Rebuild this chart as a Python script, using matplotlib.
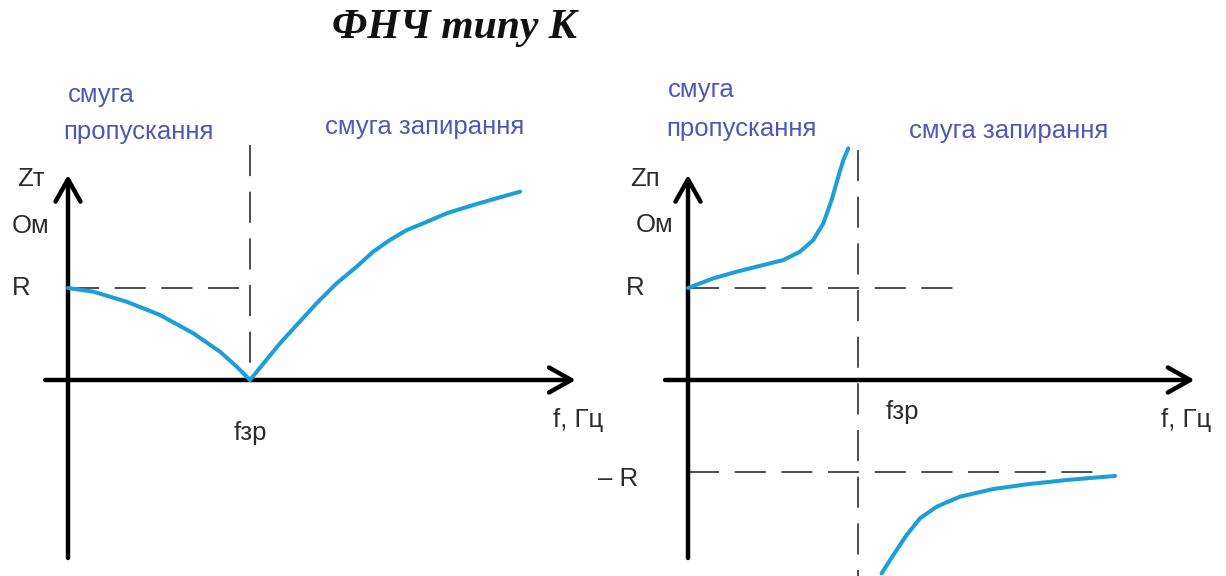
import matplotlib
matplotlib.use("Agg")
import matplotlib.pyplot as plt

# frequency in units of f_cutoff, impedance in units of R
zt_pass_f = [0.0, 0.139, 0.322, 0.505, 0.689, 0.835, 0.927, 1.0]
zt_pass_z = [1.0, 0.960, 0.851, 0.707, 0.507, 0.308, 0.145, 0.0]
zt_stop_f = [1.0, 1.082, 1.165, 1.265, 1.366, 1.476, 1.586, 1.677, 1.769,
             1.861, 1.952, 2.081, 2.227, 2.355, 2.484]
zt_stop_z = [0.0, 0.199, 0.399, 0.616, 0.834, 1.051, 1.232, 1.395, 1.522,
             1.630, 1.703, 1.812, 1.902, 1.975, 2.047]

zp_pass_f = [0.0, 0.149, 0.286, 0.443, 0.561, 0.659, 0.737, 0.796, 0.845,
             0.884, 0.914, 0.943]
zp_pass_z = [1.0, 1.105, 1.177, 1.25, 1.304, 1.395, 1.522, 1.703, 1.957,
             2.210, 2.391, 2.518]
zp_stop_f = [1.139, 1.208, 1.286, 1.365, 1.463, 1.6, 1.796, 1.992, 2.228, 2.512]
zp_stop_z = [-2.101, -1.902, -1.685, -1.503, -1.377, -1.268, -1.185, -1.134,
             -1.087, -1.043]

title = "ФНЧ типу К"
pass_label = ["смуга", "пропускання"]
stop_label = "смуга запирання"

W, H = 1226, 576
fig = plt.figure(figsize=(W / 100, H / 100), dpi=100)

CURVE = "#1c9fd8"
BLUE_TXT = "#4f58b4"
DARK = "#2b2b2b"
DASH = "#4d4d4d"
FS = 18.5

def make_axes(x0, x1, ox, fpx):
    ax = fig.add_axes([x0 / W, 0, (x1 - x0) / W, 1])
    ax.set_xlim((x0 - ox) / fpx, (x1 - ox) / fpx)
    ax.set_ylim((380 - H) / 92, 380 / 92)
    ax.axis("off")
    return ax

def draw_axes(ax, xmin, xmax, ymin, ymax):
    arrow = dict(arrowstyle="->, head_length=0.8, head_width=0.45", lw=3.2,
                 color="black", mutation_scale=20, shrinkA=0, shrinkB=0)
    ax.annotate("", xy=(xmax, 0), xytext=(xmin, 0), arrowprops=arrow)
    ax.annotate("", xy=(0, ymax), xytext=(0, ymin), arrowprops=arrow)

def dashed(ax, xs, ys):
    ax.plot(xs, ys, color=DASH, lw=1.4, dashes=(16, 8), zorder=1)

def curve(ax, xs, ys):
    ax.plot(xs, ys, color=CURVE, lw=2.9, solid_capstyle="round",
            solid_joinstyle="round", zorder=3)

def txt(ax, x, y, s, color=DARK, ha="left", size=FS):
    ax.text(x, y, s, color=color, ha=ha, va="center", fontsize=size,
            family="Liberation Sans", clip_on=False)

# left panel: Zт
axl = make_axes(0, 600, 68, 182)
dashed(axl, [0, 1.02], [1, 1])
dashed(axl, [1, 1], [2.55, 0])
draw_axes(axl, -0.126, 2.79, -1.935, 2.23)
curve(axl, zt_pass_f, zt_pass_z)
curve(axl, zt_stop_f, zt_stop_z)
txt(axl, 0.0, 3.1, pass_label[0], BLUE_TXT)
txt(axl, -0.028, 2.7, pass_label[1], BLUE_TXT)
txt(axl, 1.412, 2.75, stop_label, BLUE_TXT)
txt(axl, -0.28, 2.19, "Zт")
txt(axl, -0.31, 1.67, "Ом")
txt(axl, -0.31, 1.0, "R")
txt(axl, 1.0, -0.58, "fзр", ha="center")
txt(axl, 2.665, -0.44, "f, Гц")

# right panel: Zп
axr = make_axes(600, 1226, 688, 170)
dashed(axr, [0, 1.6], [1, 1])
dashed(axr, [1, 1], [2.5, -2.13])
dashed(axr, [0, 2.45], [-1, -1])
draw_axes(axr, -0.135, 2.98, -1.935, 2.23)
curve(axr, zp_pass_f, zp_pass_z)
curve(axr, zp_stop_f, zp_stop_z)
txt(axr, -0.118, 3.15, pass_label[0], BLUE_TXT)
txt(axr, -0.13, 2.73, pass_label[1], BLUE_TXT)
txt(axr, 1.3, 2.71, stop_label, BLUE_TXT)
txt(axr, -0.34, 2.19, "Zп")
txt(axr, -0.31, 1.68, "Ом")
txt(axr, -0.365, 1.0, "R")
txt(axr, 1.16, -0.35, "fзр")
txt(axr, 2.78, -0.44, "f, Гц")
txt(axr, -0.53, -1.08, "– R")

fig.text(455 / W, 1 - 28 / H, title, ha="center", va="center", fontsize=30,
         family="Liberation Serif", style="italic", weight="bold", color="#111111")

fig.savefig("out.png", dpi=100, facecolor="white")
